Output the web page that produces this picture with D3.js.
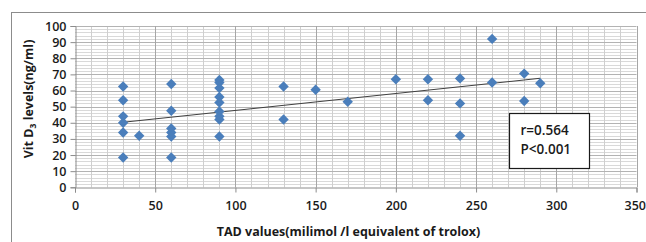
<!DOCTYPE html>
<html>
<head>
<meta charset="utf-8">
<script src="https://cdn.jsdelivr.net/npm/d3@7"></script>
<style>
  html, body { margin: 0; padding: 0; background: #fff; }
  svg { display: block; }
  text { font-family: "Open Sans", "Liberation Sans", sans-serif; fill: #1a1a1a; }
</style>
</head>
<body>
<svg id="chart" width="646" height="242"></svg>
<script>
// ---- data ----
const tadValues = [30,30,30,30,30,30, 40, 60,60,60,60,60,60,
  90,90,90,90,90,90,90,90,90, 130,130, 150, 170, 200, 220,220,
  240,240,240, 260,260, 280,280, 290];
const vitD3Values = [62.5,54,44,40,34,18.5, 32, 64,47.5,36.5,34,31.5,18.5,
  66.5,65,61.5,56,52.5,47,44,42,31.5, 62.5,42, 60.5, 53, 67, 67,54,
  67.5,52,32, 92,65, 70.5,53.5, 64.5];
const trendLine = [[30, 40.3], [290, 67.6]];
const xTicks = [0, 50, 100, 150, 200, 250, 300, 350];
const yTicks = [0, 10, 20, 30, 40, 50, 60, 70, 80, 90, 100];
const statLines = ["r=0.564", "P<0.001"];

const svg = d3.select("#chart");
const x = d3.scaleLinear().domain([0, 350]).range([75, 636.5]);
const y = d3.scaleLinear().domain([0, 100]).range([187.3, 26]);

// outer chart border
svg.append("rect").attr("x", 11.5).attr("y", 12.5).attr("width", 700).attr("height", 300)
  .attr("fill", "#fff").attr("stroke", "#8c8c8c").attr("stroke-width", 1);

const g = svg.append("g");
// minor horizontal grid (every 2)
const yMinor = d3.range(2, 100, 2).filter(v => v % 10 !== 0);
g.selectAll(".hmin").data(yMinor).enter().append("line")
  .attr("x1", x(0)).attr("x2", x(350))
  .attr("y1", d => Math.round(y(d)) + 0.5).attr("y2", d => Math.round(y(d)) + 0.5)
  .attr("stroke", "#d9d9d9").attr("stroke-width", 1);
// minor vertical grid (every 10)
const xMinor = d3.range(10, 350, 10).filter(v => v % 50 !== 0);
g.selectAll(".vmin").data(xMinor).enter().append("line")
  .attr("y1", y(0)).attr("y2", y(100))
  .attr("x1", d => Math.round(x(d)) + 0.5).attr("x2", d => Math.round(x(d)) + 0.5)
  .attr("stroke", "#cfcfcf").attr("stroke-width", 1);
// major horizontal grid
g.selectAll(".hmaj").data(yTicks.filter(v => v > 0)).enter().append("line")
  .attr("x1", x(0)).attr("x2", x(350))
  .attr("y1", d => Math.round(y(d)) + 0.5).attr("y2", d => Math.round(y(d)) + 0.5)
  .attr("stroke", "#b3b3b3").attr("stroke-width", 1);
// major vertical grid
g.selectAll(".vmaj").data(xTicks.filter(v => v > 0)).enter().append("line")
  .attr("y1", y(0)).attr("y2", y(100))
  .attr("x1", d => Math.round(x(d)) + 0.5).attr("x2", d => Math.round(x(d)) + 0.5)
  .attr("stroke", "#a6a6a6").attr("stroke-width", 1);

// axes
const yAxis = d3.axisLeft(y).tickValues(yTicks).tickSize(5).tickPadding(4).tickFormat(d3.format("d"));
const xAxis = d3.axisBottom(x).tickValues(xTicks).tickSize(5).tickPadding(9).tickFormat(d3.format("d"));
const ya = svg.append("g").attr("transform", `translate(${Math.round(x(0)) + 0.5},0)`).call(yAxis);
const xa = svg.append("g").attr("transform", `translate(0,${Math.round(y(0)) + 0.5})`).call(xAxis);
[ya, xa].forEach(a => {
  a.select(".domain").attr("stroke", "#8c8c8c");
  a.selectAll(".tick line").attr("stroke", "#8c8c8c");
  a.selectAll("text").attr("font-size", 12.5).attr("font-weight", 600)
    .attr("fill", "#1a1a1a").style("font-family", '"Open Sans", sans-serif');
});
// keep the last x label inside the window
xa.selectAll(".tick").filter(d => d === 350).select("text")
  .attr("text-anchor", "end").attr("x", 9);

// trend line
svg.append("line")
  .attr("x1", x(trendLine[0][0])).attr("y1", y(trendLine[0][1]))
  .attr("x2", x(trendLine[1][0])).attr("y2", y(trendLine[1][1]))
  .attr("stroke", "#404040").attr("stroke-width", 1.1);

// points
const pts = tadValues.map((v, i) => [v, vitD3Values[i]]);
const sym = d3.symbol().type(d3.symbolSquare).size(54);
svg.selectAll(".pt").data(pts).enter().append("path")
  .attr("d", sym)
  .attr("transform", d => `translate(${x(d[0])},${y(d[1])}) rotate(45)`)
  .attr("fill", "#4a7ebb");

// stat box
svg.append("rect").attr("x", 509.5).attr("y", 113.5).attr("width", 80).attr("height", 55)
  .attr("fill", "#fff").attr("stroke", "#1a1a1a").attr("stroke-width", 1.2);
svg.selectAll(".stat").data(statLines).enter().append("text")
  .attr("x", 520.5).attr("y", (d, i) => 134.5 + i * 19)
  .attr("font-size", 13.5).attr("font-weight", 600).text(d => d);

// axis titles
svg.append("text").attr("x", 348.5).attr("y", 236).attr("text-anchor", "middle")
  .attr("font-size", 12.5).attr("font-weight", 700)
  .text("TAD values(milimol /l equivalent of trolox)");

const yt = svg.append("text")
  .attr("transform", "translate(33,99) rotate(-90)")
  .attr("text-anchor", "middle").attr("font-size", 12.5).attr("font-weight", 700);
yt.append("tspan").text("Vit D");
yt.append("tspan").attr("font-size", 8.5).attr("dy", 3).text("3");
yt.append("tspan").attr("dy", -3).text(" levels(ng/ml)");
</script>
</body>
</html>
